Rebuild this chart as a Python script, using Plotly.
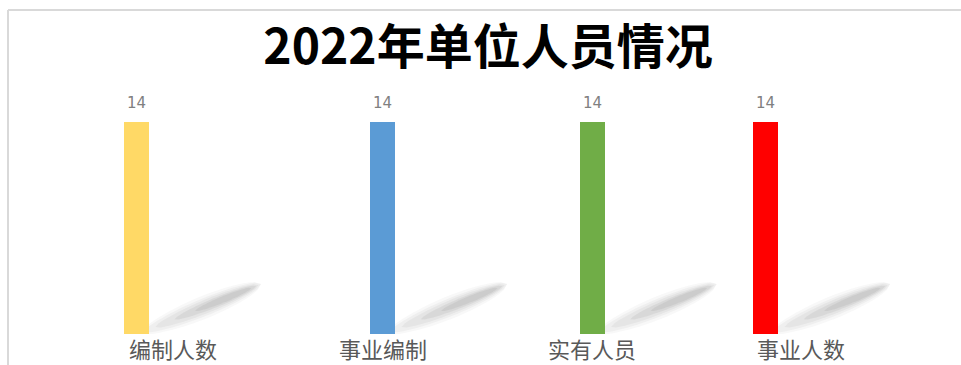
import math
import plotly.graph_objects as go

# ---- data ----
categories = ["编制人数", "事业编制", "实有人员", "事业人数"]
values = [14, 14, 14, 14]
colors = ["#FFD966", "#5B9BD5", "#70AD47", "#FF0000"]
title_text = "2022年单位人员情况"

# ---- layout helpers (positions, not data) ----
W, H = 961, 365
x_pos = [136.5, 382.7, 592.2, 765.7]        # bar centres on a 0..961 axis
bar_w = 25
label_anchor = ["left", "center", "center", "left"]
label_dx = [-10, 0, 0, -11]
y_top = 15.52
PLOT_BOTTOM_PX, PLOT_H_PX = 334, 235

fig = go.Figure()
fig.add_trace(go.Bar(
    x=x_pos, y=values, width=bar_w,
    marker=dict(color=colors, line=dict(width=0)),
    hoverinfo="skip", showlegend=False,
))


def to_y(ypx):
    return (PLOT_BOTTOM_PX - ypx) * y_top / PLOT_H_PX


def band_path(xr, ts, te, hw):
    # centre line of the shadow, measured from the bar's bottom-right corner
    x0, y0 = xr - 8, 333.0
    x1, y1 = xr + 112, 284.0
    dx, dy = x1 - x0, y1 - y0
    L = math.hypot(dx, dy)
    nx, ny = -dy / L, dx / L
    N = 24
    up, lo = [], []
    for i in range(N + 1):
        t = ts + (te - ts) * i / N
        f = math.sin(math.pi * i / N) ** 0.5
        w = hw * f * (0.95 + 0.15 * t)
        cx, cy = x0 + dx * t, y0 + dy * t
        up.append((cx + nx * w, cy + ny * w))
        lo.append((cx - nx * w, cy - ny * w))
    pts = up + lo[::-1]
    return "M " + " L ".join("%.2f,%.4f" % (px, to_y(py)) for px, py in pts) + " Z"


shapes = []
layers = [(11, 0.00, 1.00, 0.05), (8.5, 0.03, 1.00, 0.06), (6.5, 0.12, 0.98, 0.08),
          (4.5, 0.28, 0.96, 0.10), (3, 0.45, 0.92, 0.11)]
for xc in x_pos:
    xr = xc + bar_w / 2
    for hw, ts, te, a in layers:
        shapes.append(dict(type="path", xref="x", yref="y", layer="below",
                           path=band_path(xr, ts, te, hw),
                           fillcolor="rgba(110,110,110,%.3f)" % a,
                           line=dict(width=0)))

# frame lines (top and left of chart area)
py = lambda ypx: (PLOT_BOTTOM_PX - ypx) / PLOT_H_PX
shapes.append(dict(type="line", xref="paper", yref="paper",
                   x0=8 / W, x1=1, y0=py(10), y1=py(10),
                   line=dict(color="#d9d9d9", width=2)))
shapes.append(dict(type="line", xref="paper", yref="paper",
                   x0=8 / W, x1=8 / W, y0=py(10), y1=py(366),
                   line=dict(color="#d9d9d9", width=2)))

annotations = []
for xc, v in zip(x_pos, values):
    annotations.append(dict(
        x=xc, y=v, xref="x", yref="y", text=str(v), showarrow=False,
        yanchor="middle", yshift=19,
        font=dict(family="DejaVu Sans", size=15, color="#808080"),
    ))
for xc, cat, anc, dx in zip(x_pos, categories, label_anchor, label_dx):
    annotations.append(dict(
        x=xc, y=0, xref="x", yref="y", text=cat, showarrow=False,
        xanchor=anc, yanchor="middle", yshift=-14,
        xshift=(dx if anc == "left" else 0),
        font=dict(family="Noto Sans CJK SC", size=22, color="#595959"),
    ))

fig.update_layout(
    width=W, height=H, autosize=False,
    margin=dict(l=0, r=0, t=99, b=31),
    paper_bgcolor="white", plot_bgcolor="white",
    title=dict(text="<b>%s</b>" % title_text, x=488 / W, xanchor="center",
               y=1 - 47 / H, yanchor="middle", xref="container", yref="container",
               font=dict(family="Noto Sans CJK SC", size=48, color="#000000")),
    xaxis=dict(range=[0, W], visible=False, fixedrange=True),
    yaxis=dict(range=[0, y_top], visible=False, fixedrange=True),
    shapes=shapes, annotations=annotations, bargap=0,
)

fig.write_html("out.html", config={"displayModeBar": False})
